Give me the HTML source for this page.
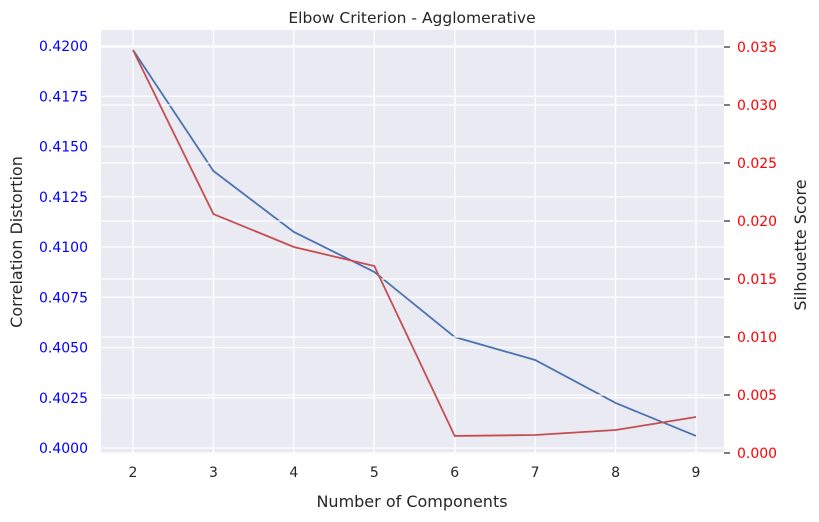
<!DOCTYPE html>
<html><head><meta charset="utf-8"><style>
body{margin:0;background:#fff;}
svg{display:block;font-family:"DejaVu Sans","Liberation Sans",sans-serif;}
</style></head><body>
<svg id="chart" width="819" height="522">
<rect x="101" y="30" width="623" height="423" fill="#eaeaf2"/>
<g id="grid"></g><g id="blue"></g><g id="grid2"></g><g id="red"></g><g id="axes"></g>
<text x="412" y="23" text-anchor="middle" font-size="15.5" fill="#262626">Elbow Criterion - Agglomerative</text>
<text x="412" y="507" text-anchor="middle" font-size="16" fill="#262626">Number of Components</text>
<text transform="translate(22,242) rotate(-90)" text-anchor="middle" font-size="16" fill="#262626">Correlation Distortion</text>
<text transform="translate(806,245) rotate(-90)" text-anchor="middle" font-size="16" fill="#262626">Silhouette Score</text>
</svg>
<script>
const categories=[2,3,4,5,6,7,8,9];
const distortion=[0.4198,0.41378,0.41075,0.40876,0.40552,0.40438,0.40224,0.4006];
const silhouette=[0.03474,0.0206,0.01776,0.01612,0.00147,0.00155,0.00198,0.0031];
const leftTicks=[0.4000,0.4025,0.4050,0.4075,0.4100,0.4125,0.4150,0.4175,0.4200];
const rightTicks=[0,0.005,0.01,0.015,0.02,0.025,0.03,0.035];
const NS="http://www.w3.org/2000/svg";
const X=v=>133+(v-2)*(696-133)/7;
const YL=v=>448-(v-0.4)*(448-46)/0.02;
const YR=v=>453-v*(453-47)/0.035;
function mk(p,tag,a){const e=document.createElementNS(NS,tag);for(const k in a)e.setAttribute(k,a[k]);document.getElementById(p).appendChild(e);return e;}
categories.forEach(c=>{
 const l=mk('grid','line',{x1:X(c),x2:X(c),y1:30,y2:453,stroke:'#fff','stroke-width':1.3});
 
 
 const t=mk('axes','text',{x:X(c),y:477,'text-anchor':'middle','font-size':14,fill:'#262626'});
 t.textContent=c;
 
 
});
leftTicks.forEach(v=>{
 const l=mk('grid','line',{x1:101,x2:724,y1:YL(v),y2:YL(v),stroke:'#fff','stroke-width':1.3});
 
 
 const t=mk('axes','text',{x:88,y:YL(v)+5,'text-anchor':'end','font-size':14,fill:'#0000ff'});
 t.textContent=v.toFixed(4);
 
 
});
rightTicks.forEach(v=>{
 const l=mk('grid2','line',{x1:101,x2:724,y1:YR(v),y2:YR(v),stroke:'#fff','stroke-width':1.3});
 
 
 const m=mk('axes','line',{x1:724,x2:730,y1:YR(v),y2:YR(v),stroke:'#262626','stroke-width':1.2});
 
 
 const t=mk('axes','text',{x:737,y:YR(v)+5,'font-size':14,fill:'#ff0000'});
 t.textContent=v.toFixed(3);
 
 
});
const bp=mk('blue','polyline',{points:categories.map((c,i)=>X(c)+','+YL(distortion[i])).join(' '),fill:'none',stroke:'#4c72b0','stroke-width':1.8});


const rp=mk('red','polyline',{points:categories.map((c,i)=>X(c)+','+YR(silhouette[i])).join(' '),fill:'none',stroke:'#c44e52','stroke-width':1.8});


</script>
</body></html>
